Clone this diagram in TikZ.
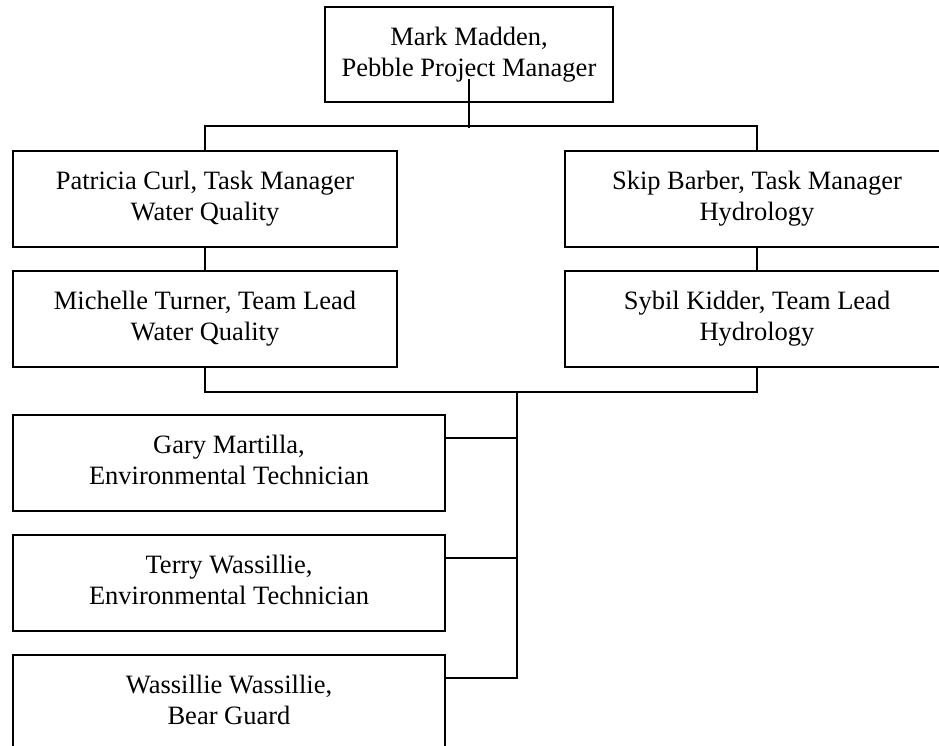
\documentclass[tikz,border=0pt]{standalone}
\usepackage{fontspec}
\setmainfont{Liberation Serif}
\usetikzlibrary{calc}
\newcommand\twoln[2]{\raisebox{3.5pt}{\begin{tabular}{@{}c@{}}#1\\#2\end{tabular}}}
\begin{document}
\begin{tikzpicture}[x=1pt,y=-1pt,
  box/.style={draw, line width=1.8pt, inner sep=0pt,
    font=\fontsize{26.5}{31}\selectfont},
  leftbox/.style={box, minimum width=384pt, minimum height=96pt},
  techbox/.style={box, minimum width=432pt, minimum height=96pt},
  conn/.style={line width=1.8pt}]
\clip (0,0) rectangle (939,746);
\fill[white] (0,0) rectangle (939,746);
% top
\node[box, minimum width=288pt, minimum height=95pt] (mm) at (469,54.5) {\twoln{Mark Madden,}{Pebble Project Manager}};
% second level
\node[leftbox] (pc) at (205,199) {\twoln{Patricia Curl, Task Manager}{Water Quality}};
\node[leftbox] (sb) at (757,199) {\twoln{Skip Barber, Task Manager}{Hydrology}};
\node[leftbox] (mt) at (205,319) {\twoln{Michelle Turner, Team Lead}{Water Quality}};
\node[leftbox] (sk) at (757,319) {\twoln{Sybil Kidder, Team Lead}{Hydrology}};
% technicians
\node[techbox] (gm) at (229,463) {\twoln{Gary Martilla,}{Environmental Technician}};
\node[techbox] (tw) at (229,583) {\twoln{Terry Wassillie,}{Environmental Technician}};
\node[techbox] (ww) at (229,703) {\twoln{Wassillie Wassillie,}{Bear Guard}};
% connectors
\coordinate (mmin) at ($(mm.south)+(0,-24)$);
\coordinate (bus1) at ($(mm.south)+(0,25)$);
\draw[conn] (mmin) -- (bus1);
\draw[conn] (pc.north) -- ++(0,-24) -| (sb.north);
\draw[conn] (pc.south) -- (mt.north);
\draw[conn] (sb.south) -- (sk.north);
\draw[conn] (mt.south) -- ++(0,24) -| (sk.south);
\coordinate (bus2) at (517,391);
\coordinate (gmb) at ($(gm.north east)+(0,24)$);
\coordinate (twb) at ($(tw.north east)+(0,24)$);
\coordinate (wwb) at ($(ww.north east)+(0,24)$);
\draw[conn] (bus2) |- (wwb);
\draw[conn] (gmb) -- (bus2 |- gmb);
\draw[conn] (twb) -- (bus2 |- twb);
\end{tikzpicture}
\end{document}
